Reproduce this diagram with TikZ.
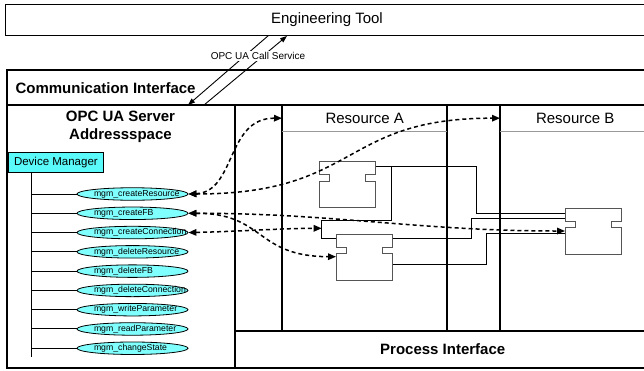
\documentclass[tikz,border=0pt]{standalone}
\usepackage{fontspec}
\setmainfont{Liberation Sans}
\usetikzlibrary{arrows.meta,shapes.geometric,calc}

\definecolor{dmcyan}{RGB}{90,250,250}
\definecolor{opcyan}{RGB}{128,255,255}
\definecolor{fbgray}{RGB}{85,85,85}

% function block with a notch on each side
\newcommand{\fbblock}[2]{%
  \node[fbbox] (#1) at (#2) {};
  \filldraw[fbline] (#1.north west) -- (#1.north east)
    -- ($(#1.north east)+(0,13)$) -- ++(-10,0) -- ++(0,6.5) -- ++(10,0)
    -- (#1.south east) -- (#1.south west)
    -- ($(#1.north west)+(0,19.5)$) -- ++(10,0) -- ++(0,-6.5) -- ++(-10,0)
    -- cycle;
}

\begin{document}
\begin{tikzpicture}[x=1pt,y=-1pt,
  frame/.style={line width=1.8pt},
  hdrline/.style={draw=gray!80, line width=1pt},
  conn/.style={line width=0.9pt},
  tree/.style={line width=1pt},
  fbbox/.style={minimum width=56pt, minimum height=46pt, inner sep=0pt, outer sep=0pt},
  fbline/.style={draw=fbgray, fill=white, line width=1pt},
  hdr/.style={font=\fontsize{15}{18}\selectfont},
  hdrbold/.style={font=\fontsize{15}{18}\selectfont\bfseries},
  mgm/.style={ellipse, draw, line width=0.8pt, fill=opcyan, minimum width=111pt,
    minimum height=12.5pt, inner sep=0pt, font=\fontsize{8.7}{9}\selectfont},
  dm/.style={draw, line width=0.8pt, fill=dmcyan, inner sep=0pt,
    minimum width=95pt, minimum height=20pt, font=\fontsize{11.5}{13}\selectfont},
  darrow/.style={line width=1.5pt, dash pattern=on 4pt off 3pt,
    arrows={Triangle[length=8pt,width=6.5pt]-Triangle[length=8pt,width=6.5pt]}},
  callarrow/.style={line width=0.9pt, -{Triangle[length=7pt,width=5pt]}},
]
\useasboundingbox (0,0) rectangle (644,370);
\clip (0,0) rectangle (644,370);

% engineering tool
\node[draw, line width=0.9pt, anchor=north west, inner sep=0pt,
  minimum width=643pt, minimum height=31pt, hdr] (eng) at (5,4) {Engineering Tool};

% device frame with communication and process interfaces
\node[draw, frame, anchor=north west, inner sep=0pt,
  minimum width=660pt, minimum height=298pt] (comm) at (6,69) {};
\node[hdrbold, anchor=west] (commtext) at (12,88) {Communication Interface};
\draw[frame] (6,105) -- (660,105);
\draw[frame] (235,105) -- (235,367);
\draw[frame] (282,105) -- (282,331);
\draw[frame] (447,105) -- (447,331);
\draw[frame] (500,105) -- (500,331);
\draw[frame] (235,331) -- (660,331);
\node[anchor=north west, inner sep=0pt, minimum width=415pt, minimum height=36pt,
  hdrbold] (proc) at (235,331) {Process Interface};

% resources
\node[anchor=north west, inner sep=0pt, minimum width=165pt, minimum height=26pt,
  hdr] (resA) at (282,105) {Resource A};
\node[anchor=north west, inner sep=0pt, minimum width=150pt, minimum height=26pt,
  hdr] (resB) at (500,105) {Resource B};
\draw[hdrline] (resA.south west) -- (resA.south east);
\draw[hdrline] (resB.south west) -- (resB.south east);

% OPC UA address space
\node[hdrbold, align=center] (srv) at (120.5,127) {OPC UA Server\\Addressspace};
\node[dm, anchor=north west] (dm) at (8,152) {Device Manager};
\foreach \t [count=\i] in {createResource, createFB, createConnection,
    deleteResource, deleteFB, deleteConnection, writeParameter,
    readParameter, changeState} {
  \node[mgm] (m\i) at (132.5,{194+(\i-1)*19.28}) {\makebox[77pt][l]{mgm\_\t}};
}
\coordinate (trunk) at ($(dm.south west)+(23,0)$);
\draw[tree] (trunk) -- ++(0,183.7);
\foreach \i in {1,...,9} {
  \draw[tree] (trunk |- m\i.west) -- (m\i.west);
}

% call service between tool and server
\coordinate (ciA) at (188,105);
\coordinate (ciB) at (204,105);
\draw[callarrow] ($(eng.south west)+(263,0)$) -- (ciA);
\draw[callarrow] (ciB) -- ($(eng.south west)+(282,0)$);
\node[fill=white, inner sep=1pt, font=\fontsize{10}{12}\selectfont] (call) at (258,56)
  {OPC UA Call Service};

% data connections between function blocks
\coordinate (fb1out) at (375.5,166.7);
\coordinate (fb3out) at (392,264.3);
\coordinate (fb4inA) at (565,213.3);
\coordinate (fb4inB) at (565,218.3);
\coordinate (fb4inC) at (565,233.3);
\draw[conn] (fb1out) -- (476.7,166.7) |- (fb4inA);
\draw[conn] (fb1out) -| (391.7,220.5) -| (321.7,238.3) -| (471.7,218.3) -- (fb4inB);
\draw[conn] (fb3out) -| (486.7,233.3) -- (fb4inC);

% function blocks
\fbblock{fb1}{347.5,184.7}
\fbblock{fb3}{364,257}
\fbblock{fb4}{593,231.2}
\coordinate (fb2in) at (321.7,228.3);
\coordinate (fb3in) at ($(fb3.north west)+(0,22.7)$);
\coordinate (fb4in) at ($(fb4.north west)+(0,22.8)$);

% management service calls
\draw[darrow] (m1.east) .. controls (236,192) and (226,118) .. (resA.west);
\draw[darrow] (m1.east) .. controls (360,194) and (340,118) .. (resB.west);
\draw[darrow] (m2.east) .. controls (330,213) and (420,231) .. (fb4in);
\draw[darrow] (m2.east) .. controls (265,213) and (255,256.5) .. (fb3in);
\draw[darrow] (m3.east) .. controls (240,231.5) and (280,228.3) .. (fb2in);
\end{tikzpicture}
\end{document}
